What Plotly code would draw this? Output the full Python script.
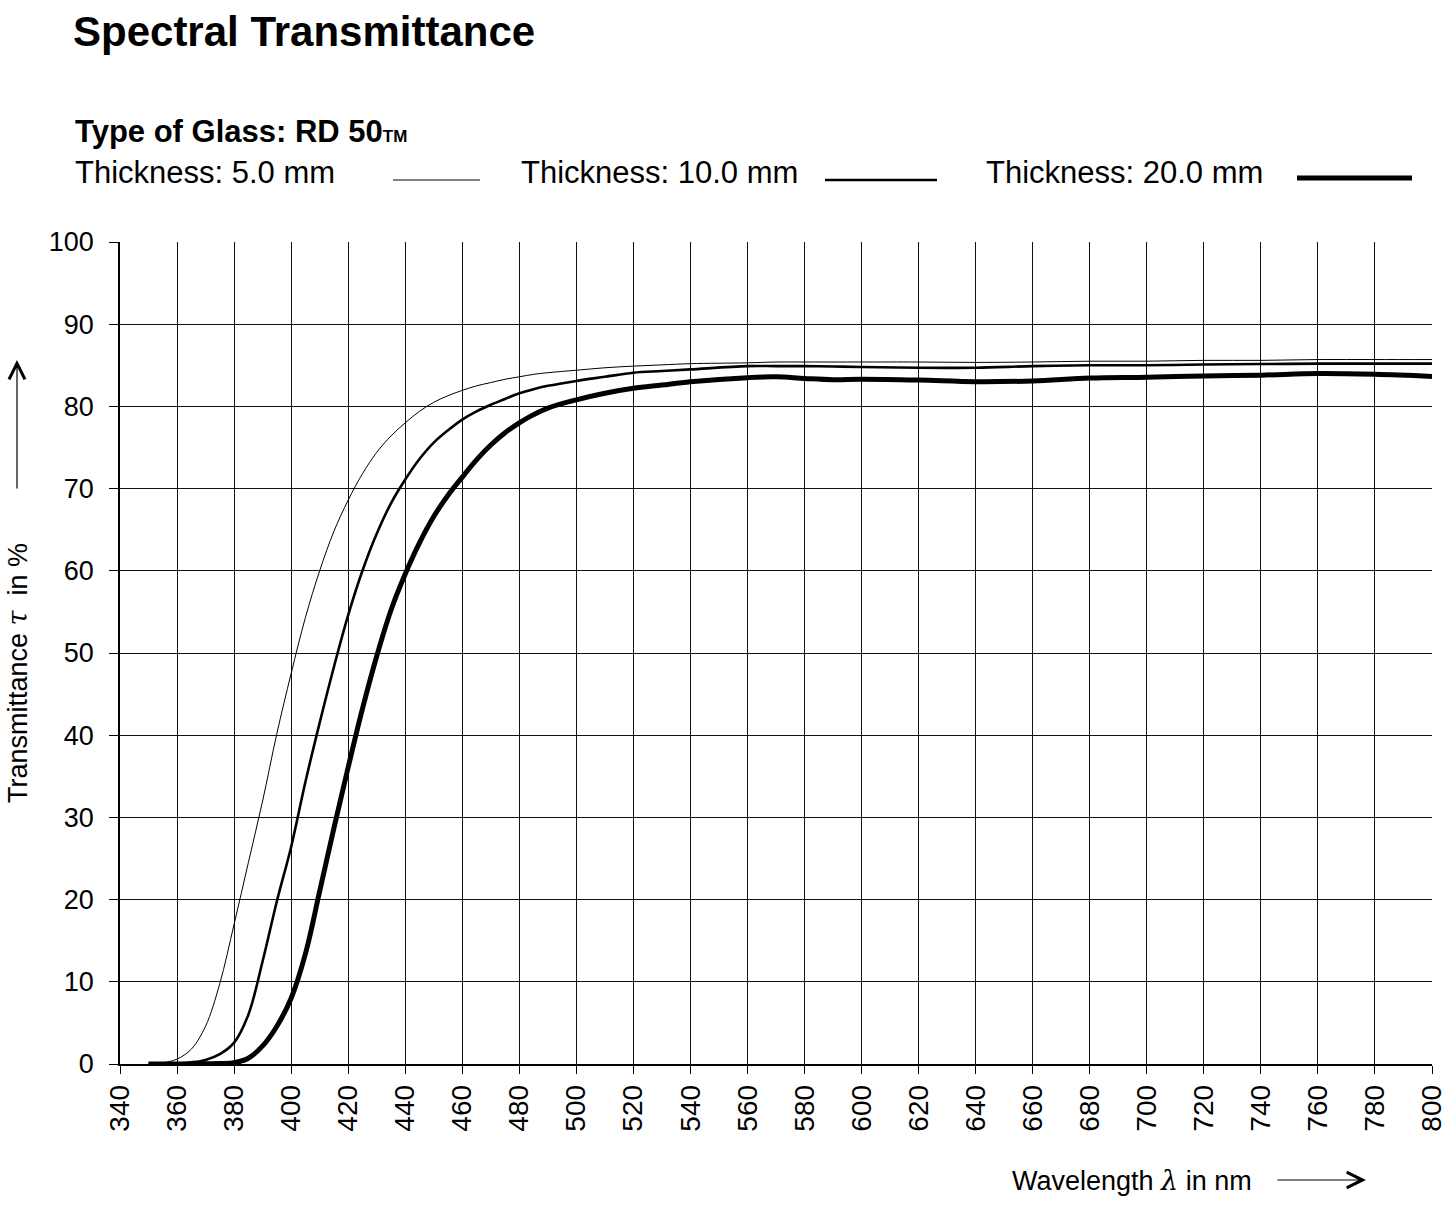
import plotly.graph_objects as go

# ---------------- data ----------------
wavelength = [350, 355, 360, 365, 370, 375, 380, 385, 390, 395, 400, 405, 410, 415, 420,
              425, 430, 435, 440, 445, 450, 455, 460, 465, 470, 475, 480, 485, 490, 500,
              510, 520, 530, 540, 560, 570, 580, 590, 600, 620, 640, 660, 680, 700, 720,
              740, 760, 780, 800]
t_5mm = [0.0, 0.15, 0.6, 1.8, 4.6, 9.8, 17.0, 24.5, 32.0, 40.2, 47.5, 54.3, 60.0, 64.8, 68.6,
         71.8, 74.4, 76.4, 78.0, 79.4, 80.5, 81.3, 81.95, 82.5, 82.9, 83.3, 83.6, 83.9, 84.1, 84.4,
         84.7, 84.9, 85.05, 85.2, 85.3, 85.4, 85.4, 85.4, 85.4, 85.4, 85.35, 85.4, 85.5, 85.5, 85.6,
         85.6, 85.7, 85.7, 85.7]
t_10mm = [0.0, 0.0, 0.05, 0.2, 0.5, 1.2, 2.6, 6.0, 12.5, 19.8, 26.4, 34.3, 41.5, 48.3, 54.6,
          60.0, 64.5, 68.2, 71.1, 73.6, 75.6, 77.1, 78.4, 79.4, 80.2, 80.9, 81.6, 82.1, 82.5, 83.1,
          83.6, 84.1, 84.3, 84.5, 84.9, 84.9, 84.9, 84.85, 84.8, 84.7, 84.7, 84.9, 85.0, 85.0, 85.1,
          85.15, 85.2, 85.2, 85.2]
t_20mm = [0.0, 0.0, 0.0, 0.0, 0.02, 0.05, 0.15, 0.7, 2.2, 4.6, 8.0, 13.4, 21.0, 28.7, 36.1,
          43.2, 49.6, 55.2, 59.6, 63.4, 66.6, 69.2, 71.4, 73.5, 75.3, 76.8, 78.0, 79.0, 79.8, 80.8,
          81.6, 82.2, 82.6, 83.0, 83.5, 83.6, 83.4, 83.25, 83.3, 83.2, 83.0, 83.1, 83.45, 83.55, 83.7,
          83.8, 84.0, 83.9, 83.65]

x_ticks = list(range(340, 801, 20))
y_ticks = list(range(0, 101, 10))

FONT = "Arial, 'Liberation Sans', sans-serif"
SERIF_I = "<span style=\"font-family:'DejaVu Serif', serif;font-style:italic\">%s</span>"

fig = go.Figure()
for ys, w, nm in [(t_5mm, 1, "Thickness: 5.0 mm"), (t_10mm, 2.6, "Thickness: 10.0 mm"),
                  (t_20mm, 5, "Thickness: 20.0 mm")]:
    fig.add_trace(go.Scatter(x=wavelength, y=ys, mode="lines",
                             line=dict(color="black", width=w, shape="spline", smoothing=1.0),
                             name=nm, showlegend=False))

fig.update_layout(
    width=1456, height=1225,
    margin=dict(l=120, r=24, t=242, b=161, autoexpand=False),
    paper_bgcolor="white", plot_bgcolor="white",
    font=dict(family=FONT, color="black"),
    title=dict(text="<b>Spectral Transmittance</b>", x=73 / 1456, xanchor="left",
               y=1 - 31 / 1225, yanchor="middle", font=dict(size=42, family=FONT, color="black")),
)

fig.update_xaxes(
    range=[340, 800], tickmode="array", tickvals=x_ticks, ticktext=[str(v) for v in x_ticks],
    tickangle=-90, tickfont=dict(size=28, family=FONT, color="black"),
    showgrid=True, gridcolor="#111111", gridwidth=1.2,
    showline=True, linecolor="black", linewidth=1.5,
    ticks="outside", ticklen=8, tickwidth=1.2, tickcolor="black",
    zeroline=False, mirror=False,
)
fig.update_yaxes(
    range=[0, 100], tickmode="array", tickvals=y_ticks, ticktext=[str(v) for v in y_ticks],
    tickfont=dict(size=27, family=FONT, color="black"),
    showgrid=True, gridcolor="#111111", gridwidth=1.2,
    showline=True, linecolor="black", linewidth=1.5,
    ticks="outside", ticklen=9, tickwidth=1.2, tickcolor="black", ticklabelstandoff=10,
    zeroline=False,
)

def px_x(px):
    return (px - 120) / 1312

def px_y(py):
    return (1064 - py) / 822

annotations = [
    dict(text="<b>Type of Glass: RD 50</b><b><span style='font-size:17px'>TM</span></b>",
         x=px_x(73), y=px_y(131), xanchor="left", yanchor="middle", font=dict(size=31)),
    dict(text="Thickness: 5.0 mm", x=px_x(73), y=px_y(172), xanchor="left", yanchor="middle", font=dict(size=31)),
    dict(text="Thickness: 10.0 mm", x=px_x(519), y=px_y(172), xanchor="left", yanchor="middle", font=dict(size=31)),
    dict(text="Thickness: 20.0 mm", x=px_x(984), y=px_y(172), xanchor="left", yanchor="middle", font=dict(size=31)),
    dict(text="Transmittance " + SERIF_I % "τ" + "  in %", x=px_x(17), y=px_y(673), textangle=-90,
         xanchor="center", yanchor="middle", font=dict(size=27)),
    dict(text="Wavelength " + SERIF_I % "λ" + " in nm", x=px_x(1010), y=px_y(1180),
         xanchor="left", yanchor="middle", font=dict(size=27)),
    # arrows
    dict(text="", x=px_x(17), y=px_y(360), ax=0, ay=130, showarrow=True,
         arrowhead=5, arrowsize=2.6, arrowwidth=1.2, arrowcolor="black"),
    dict(text="", x=px_x(1366), y=px_y(1180), ax=-90, ay=0, showarrow=True,
         arrowhead=5, arrowsize=2.6, arrowwidth=1.2, arrowcolor="black"),
]
for a in annotations:
    a.setdefault("xref", "paper")
    a.setdefault("yref", "paper")
    a.setdefault("showarrow", False)
    if "font" in a:
        a["font"].update(family=FONT, color="black")
fig.update_layout(annotations=annotations)

shapes = [
    dict(type="line", x0=px_x(393), x1=px_x(480), y0=px_y(180), y1=px_y(180), line=dict(color="black", width=1)),
    dict(type="line", x0=px_x(825), x1=px_x(937), y0=px_y(180), y1=px_y(180), line=dict(color="black", width=2.6)),
    dict(type="line", x0=px_x(1297), x1=px_x(1412), y0=px_y(178), y1=px_y(178), line=dict(color="black", width=5)),
]
for s in shapes:
    s.update(xref="paper", yref="paper")
fig.update_layout(shapes=shapes)

fig.write_html("out.html")
